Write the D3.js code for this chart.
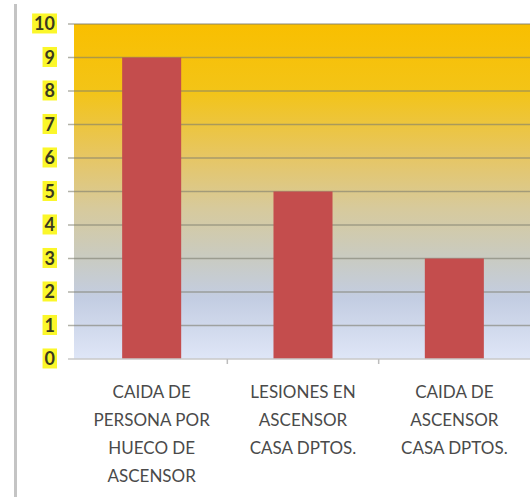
<!DOCTYPE html>
<html>
<head>
<meta charset="utf-8">
<script src="https://cdn.jsdelivr.net/npm/d3@7"></script>
<style>
  body { margin: 0; background: #fff; }
  svg { display: block; }
</style>
</head>
<body>
<svg id="chart"></svg>
<script>
// categories and values
var categories = [
  ["CAIDA DE", "PERSONA POR", "HUECO DE", "ASCENSOR"],
  ["LESIONES EN", "ASCENSOR", "CASA DPTOS."],
  ["CAIDA DE", "ASCENSOR", "CASA DPTOS."]
];
var values = [9, 5, 3];
var yTicks = [0, 1, 2, 3, 4, 5, 6, 7, 8, 9, 10];

var width = 530,
    height = 497;

var plot = { left: 74, right: 530, top: 24, bottom: 359 };

var svg = d3.select("#chart")
    .attr("width", width)
    .attr("height", height);

// background gradient (orange on top -> light blue at bottom)
var defs = svg.append("defs");
var grad = defs.append("linearGradient")
    .attr("id", "bg")
    .attr("x1", 0).attr("y1", 0).attr("x2", 0).attr("y2", 1);
[["0%", "#f9bf00"], ["20%", "#f3c417"], ["40%", "#e6c665"],
 ["55%", "#d7ca9c"], ["70%", "#c9cbc2"], ["82%", "#c3cde2"],
 ["100%", "#dfe6f7"]].forEach(function(s) {
  grad.append("stop").attr("offset", s[0]).attr("stop-color", s[1]);
});

var x = d3.scaleBand()
    .domain(d3.range(categories.length))
    .range([76, plot.right])
    .paddingInner(0.61)
    .paddingOuter(0.305);

var y = d3.scaleLinear()
    .domain([0, 10])
    .range([plot.bottom, plot.top]);

// left grey rule
svg.append("rect")
    .attr("x", 14).attr("y", 4)
    .attr("width", 3).attr("height", height - 4)
    .attr("fill", "#c4c4c4");

svg.append("rect")
    .attr("x", plot.left).attr("y", plot.top)
    .attr("width", plot.right - plot.left)
    .attr("height", plot.bottom - plot.top)
    .attr("fill", "url(#bg)");

// gridlines + ticks
svg.append("g").selectAll("line")
    .data(yTicks.filter(function(d) { return d > 0; }))
    .enter().append("line")
      .attr("x1", 68).attr("x2", plot.right)
      .attr("y1", function(d) { return y(d); })
      .attr("y2", function(d) { return y(d); })
      .attr("stroke", "#7d7d6e")
      .attr("stroke-opacity", 0.6)
      .attr("stroke-width", 1.5);

// bars
svg.append("g").selectAll("rect")
    .data(values)
    .enter().append("rect")
      .attr("x", function(d, i) { return x(i); })
      .attr("y", function(d) { return y(d); })
      .attr("width", x.bandwidth())
      .attr("height", function(d) { return y(0) - y(d); })
      .attr("fill", "#c44d4d");

// base axis
svg.append("line")
    .attr("x1", 68).attr("x2", plot.right)
    .attr("y1", y(0)).attr("y2", y(0))
    .attr("stroke", "#c8c8c8").attr("stroke-width", 1.5);

var step = x.step();
svg.append("g").selectAll("line")
    .data(d3.range(categories.length))
    .enter().append("line")
      .attr("x1", function(i) { return x(i) - x.paddingOuter() * step + i * 0; })
      .attr("x2", function(i) { return x(i) - x.paddingOuter() * step; })
      .attr("y1", y(0)).attr("y2", y(0) + 5)
      .attr("stroke", "#bdbdbd").attr("stroke-width", 1.5)
      .filter(function(i) { return i === 0; }).remove();

// y labels with yellow highlight
var yl = svg.append("g").selectAll("g")
    .data(yTicks)
    .enter().append("g")
      .attr("transform", function(d) { return "translate(55," + y(d) + ")"; });

yl.append("text")
    .attr("text-anchor", "end")
    .attr("dy", "0.36em")
    .style("font-family", "Lato, 'Open Sans', sans-serif")
    .style("font-weight", "bold")
    .style("font-size", "18px")
    .attr("fill", "#3a3a20")
    .text(function(d) { return d; });

yl.insert("rect", "text")
    .each(function() {
      var bb = this.parentNode.querySelector("text").getBBox();
      d3.select(this)
        .attr("x", bb.x - 2).attr("y", bb.y + 1)
        .attr("width", bb.width + 4).attr("height", bb.height - 2);
    })
    .attr("fill", "#fbf72a");

// x labels
var xl = svg.append("g").selectAll("text")
    .data(categories)
    .enter().append("text")
      .attr("text-anchor", "middle")
      .attr("transform", function(d, i) { return "translate(" + (x(i) + x.bandwidth() / 2) + ",398)"; })
      .style("font-family", "Lato, sans-serif")
      .style("font-size", "17px")
      .attr("fill", "#4a4a4a");

xl.selectAll("tspan")
    .data(function(d) { return d; })
    .enter().append("tspan")
      .attr("x", 0)
      .attr("y", function(d, i) { return i * 28; })
      .text(function(d) { return d; });
</script>
</body>
</html>
